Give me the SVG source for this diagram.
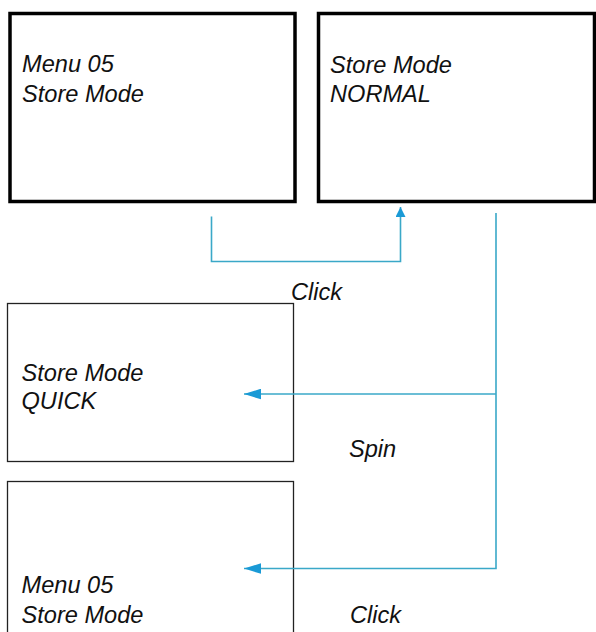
<svg xmlns="http://www.w3.org/2000/svg" width="596" height="632" viewBox="0 0 596 632">
<defs>
<style>
.t{font-family:"Liberation Sans",Arial,sans-serif;font-size:23.6px;font-style:italic;fill:#111;}
.thick{fill:#fff;stroke:#000;stroke-width:3.5;}
.thin{fill:#fff;stroke:#222;stroke-width:1.3;}
.c{fill:none;stroke:#3aa8c8;stroke-width:1.6;}
</style>
<marker id="ah" viewBox="0 0 10 10" refX="10" refY="5" markerWidth="10" markerHeight="10" markerUnits="userSpaceOnUse" orient="auto">
<path d="M0,0 L10,5 L0,10 Z" fill="#1a9ad6"/>
</marker>
<marker id="ah2" viewBox="0 0 16 10" refX="16" refY="5" markerWidth="17" markerHeight="11" markerUnits="userSpaceOnUse" orient="auto">
<path d="M0,0 L16,5 L0,10 Z" fill="#1a9ad6"/>
</marker>
</defs>
<g id="node-menu05">
<rect class="thick" x="10" y="13.5" width="285" height="188"/>
<text class="t" x="22" y="72">Menu 05</text>
<text class="t" x="22" y="102">Store Mode</text>
</g>
<g id="node-normal">
<rect class="thick" x="318.5" y="13.5" width="276" height="188"/>
<text class="t" x="330" y="73">Store Mode</text>
<text class="t" x="330" y="102">NORMAL</text>
</g>
<g id="node-quick">
<rect class="thin" x="7.5" y="303.5" width="286" height="158"/>
<text class="t" x="21.5" y="381">Store Mode</text>
<text class="t" x="21.5" y="409">QUICK</text>
</g>
<g id="node-menu05b">
<rect class="thin" x="7.5" y="481.5" width="286" height="160"/>
<text class="t" x="21.5" y="593">Menu 05</text>
<text class="t" x="21.5" y="623">Store Mode</text>
</g>
<g id="connectors">
<path class="c" d="M211.5,216.5 V261.5 H400.5 V207" marker-end="url(#ah)"/>
<path class="c" d="M496,213 V568.5 H244" marker-end="url(#ah2)"/>
<path class="c" d="M496,394 H244" marker-end="url(#ah2)"/>
</g>
<g id="labels">
<text class="t" x="291" y="299.5">Click</text>
<text class="t" x="349" y="457">Spin</text>
<text class="t" x="350" y="623">Click</text>
</g>
</svg>
